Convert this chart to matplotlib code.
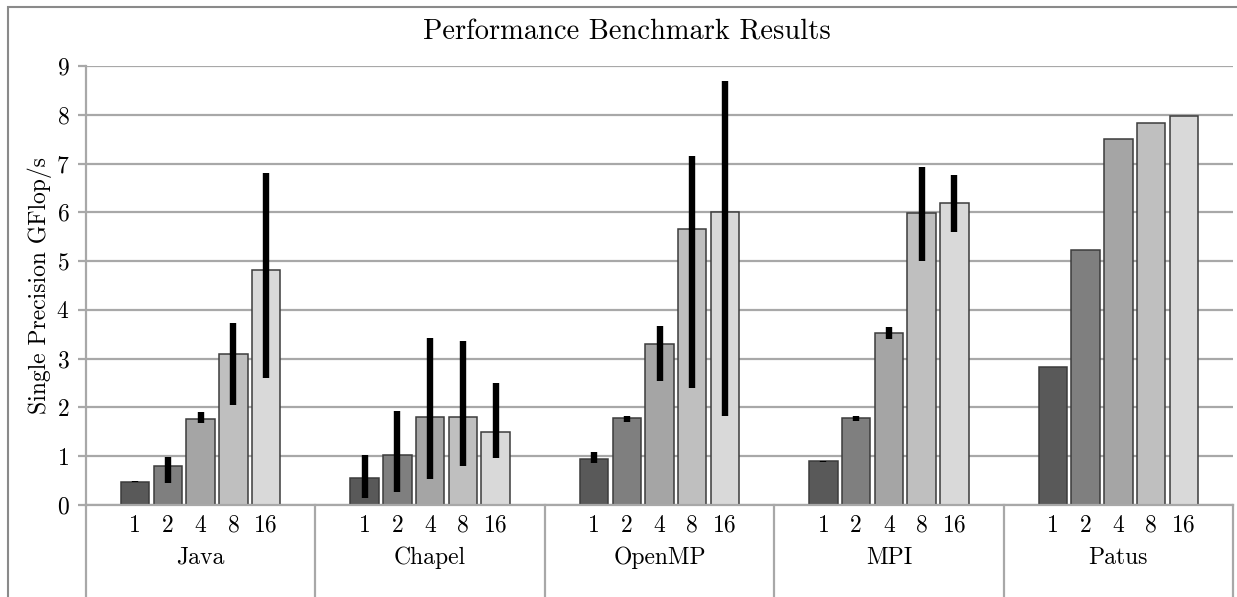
import numpy as np
import matplotlib.pyplot as plt
from matplotlib.patches import Rectangle
import matplotlib.transforms as mtransforms

plt.rcParams['font.family'] = ['cmr10', 'DejaVu Serif']
plt.rcParams['axes.formatter.use_mathtext'] = True

# data
groups = ['Java', 'Chapel', 'OpenMP', 'MPI', 'Patus']
threads = ['1', '2', '4', '8', '16']
values = [
    [0.48, 0.79, 1.76, 3.09, 4.81],   # Java
    [0.56, 1.03, 1.81, 1.81, 1.49],   # Chapel
    [0.95, 1.78, 3.30, 5.66, 6.00],   # OpenMP
    [0.90, 1.78, 3.52, 5.98, 6.19],   # MPI
    [2.82, 5.23, 7.50, 7.83, 7.98],   # Patus
]
err_lo = [
    [0.47, 0.46, 1.68, 2.05, 2.60],
    [0.14, 0.27, 0.53, 0.80, 0.96],
    [0.86, 1.70, 2.55, 2.39, 1.83],
    [0.89, 1.73, 3.40, 5.00, 5.59],
    [None, None, None, None, None],
]
err_hi = [
    [0.49, 0.98, 1.90, 3.74, 6.80],
    [1.03, 1.92, 3.42, 3.37, 2.50],
    [1.08, 1.83, 3.67, 7.16, 8.70],
    [0.91, 1.83, 3.65, 6.93, 6.77],
    [None, None, None, None, None],
]

colors = ['#595959', '#7f7f7f', '#a5a5a5', '#bfbfbf', '#d9d9d9']
grid_gray = '#a8a8a8'

W, H = 1237, 597
fig = plt.figure(figsize=(W / 100, H / 100), dpi=100)
ax = fig.add_axes([86 / W, (H - 505) / H, (1233 - 86) / W, (505 - 66) / H])

step = 0.1426
bw = 0.124
tick_pos = []
tick_lab = []
for g in range(len(groups)):
    for i in range(len(threads)):
        x = g + (i - 2) * step
        ax.bar(x, values[g][i], width=bw, color=colors[i],
               edgecolor='#3c3c3c', linewidth=1.1, zorder=2)
        if err_lo[g][i] is not None:
            ax.vlines(x, err_lo[g][i], err_hi[g][i], colors='black',
                      linewidth=4.6, zorder=3)
        tick_pos.append(x)
        tick_lab.append(threads[i])

ax.set_xlim(-0.5, len(groups) - 0.5)
ax.set_ylim(0, 9)
ax.set_yticks(range(0, 10))
ax.yaxis.grid(True, color=grid_gray, linewidth=1.6, zorder=0)
ax.set_axisbelow(True)

ax.set_xticks(tick_pos)
ax.set_xticklabels(tick_lab, fontsize=17)
ax.tick_params(axis='x', length=0, pad=7)
ax.tick_params(axis='y', direction='out', length=6, width=1.6,
               color=grid_gray, labelsize=17, pad=6)

for s in ['top', 'right']:
    ax.spines[s].set_visible(False)
ax.spines['left'].set_color(grid_gray)
ax.spines['left'].set_linewidth(1.6)
ax.spines['bottom'].set_color(grid_gray)
ax.spines['bottom'].set_linewidth(1.6)

# category separators and group labels below the axis
trans = mtransforms.blended_transform_factory(ax.transData, ax.transAxes)
for b in np.arange(-0.5, len(groups), 1.0):
    ax.plot([b, b], [0, -0.25], transform=trans, color=grid_gray,
            linewidth=1.6, clip_on=False)
for g, name in enumerate(groups):
    ax.text(g, -0.12, name, transform=trans, ha='center', va='center',
            fontsize=17)

ax.set_ylabel('Single Precision GFlop/s', fontsize=17, labelpad=3)
fig.text(627 / W, 1 - 32 / H, 'Performance Benchmark Results',
         ha='center', va='center', fontsize=20.5)

# outer frame
fig.patches.append(Rectangle((8 / W, -0.1), 1.2, 1.1 - 7 / H,
                             transform=fig.transFigure, fill=False,
                             edgecolor='#8a8a8a', linewidth=1.5))

plt.savefig('out.png', dpi=100)
